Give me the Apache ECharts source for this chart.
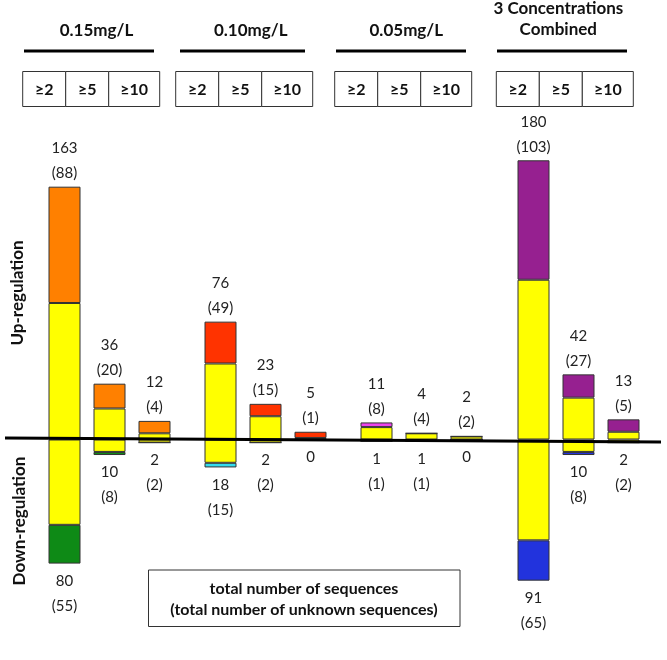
<!DOCTYPE html>
<html>
<head>
<meta charset="utf-8">
<title>Up / down regulated sequences</title>
<script src="https://cdn.jsdelivr.net/npm/echarts@6/dist/echarts.min.js"></script>
<style>
  html, body { margin: 0; padding: 0; background: #fff; }
  #main { width: 667px; height: 660px; }
</style>
</head>
<body>
<div id="main"></div>
<script>
// group headers and fold-change thresholds
var groups = ['0.15mg/L', '0.10mg/L', '0.05mg/L', '3 Concentrations\nCombined'];
var thresholds = ['≥2', '≥5', '≥10'];

// up-regulated: total / unknown, one row per group
var upTotal = [[163, 36, 12], [76, 23, 5], [11, 4, 2], [180, 42, 13]];
var upUnknown = [[88, 20, 4], [49, 15, 1], [8, 4, 2], [103, 27, 5]];

// down-regulated: total / unknown
var downTotal = [[80, 10, 2], [18, 2, 0], [1, 1, 0], [91, 10, 2]];
var downUnknown = [[55, 8, 2], [15, 2, 0], [1, 1, 0], [65, 8, 2]];

var upColors = ['#FF8000', '#FF3300', '#EE44EE', '#962090'];
var downColors = ['#0E8A16', '#33DDEE', '#888888', '#2233DD'];
var unknownColor = '#FFFF00';
var FONT = 'Lato, "Open Sans", sans-serif';

var gridLefts = [42, 198, 354, 511];
var boxLefts = [22.7, 175.7, 334.7, 496.3];
var cellWidths = [43, 43, 51];
var headerX = [96.5, 250.7, 406.3, 558.3];
var headerLines = [[24, 154], [180, 305], [336, 466], [497, 627]];

var chart = echarts.init(document.getElementById('main'), null, { renderer: 'canvas' });

var grid = [], xAxis = [], yAxis = [], series = [], graphic = [];

groups.forEach(function (name, g) {
  grid.push({ left: gridLefts[g], width: 135, top: 151, height: 470 });
  xAxis.push({ gridIndex: g, type: 'category', data: thresholds, show: false });
  yAxis.push({ gridIndex: g, type: 'value', min: -117, max: 186, show: false });

  var barBase = {
    type: 'bar', xAxisIndex: g, yAxisIndex: g, stack: 'g' + g,
    barWidth: 32, silent: true
  };
  // down series first so zero values stay on the baseline
  series.push(Object.assign({}, barBase, {
    name: 'down unknown',
    itemStyle: { color: unknownColor, borderColor: '#333', borderWidth: 1 },
    data: downUnknown[g].map(function (v) { return -v; })
  }));
  series.push(Object.assign({}, barBase, {
    name: 'down known',
    itemStyle: { color: downColors[g], borderColor: '#333', borderWidth: 1 },
    label: {
      show: true, position: 'bottom', distance: 5,
      fontFamily: FONT, fontSize: 15, lineHeight: 25, color: '#222',
      formatter: function (p) {
        var t = downTotal[g][p.dataIndex];
        return t === 0 ? '0' : t + '\n(' + downUnknown[g][p.dataIndex] + ')';
      }
    },
    data: downTotal[g].map(function (v, i) { return -(v - downUnknown[g][i]); })
  }));
  series.push(Object.assign({}, barBase, {
    name: 'up unknown',
    itemStyle: { color: unknownColor, borderColor: '#333', borderWidth: 1 },
    data: upUnknown[g]
  }));
  series.push(Object.assign({}, barBase, {
    name: 'up known',
    itemStyle: { color: upColors[g], borderColor: '#333', borderWidth: 1 },
    label: {
      show: true, position: 'top', distance: 1,
      fontFamily: FONT, fontSize: 15, lineHeight: 25, color: '#222',
      formatter: function (p) {
        return upTotal[g][p.dataIndex] + '\n(' + upUnknown[g][p.dataIndex] + ')';
      }
    },
    data: upTotal[g].map(function (v, i) { return v - upUnknown[g][i]; })
  }));

  // header text + rule
  graphic.push({
    type: 'text', x: headerX[g], y: g === 3 ? 19 : 31,
    style: {
      text: name, font: 'bold 17px ' + FONT, fill: '#111',
      align: 'center', verticalAlign: 'middle', textAlign: 'center', textVerticalAlign: 'middle',
      lineHeight: 21
    }
  });
  graphic.push({
    type: 'line',
    shape: { x1: headerLines[g][0], y1: 51, x2: headerLines[g][1], y2: 51 },
    style: { stroke: '#000', lineWidth: 3 }
  });

  // threshold boxes
  var cx = boxLefts[g];
  thresholds.forEach(function (t, i) {
    graphic.push({
      type: 'rect',
      shape: { x: cx, y: 71.5, width: cellWidths[i], height: 35 },
      style: { fill: '#fff', stroke: '#333', lineWidth: 1 }
    });
    graphic.push({
      type: 'text', x: cx + cellWidths[i] / 2, y: 89.5,
      style: {
        text: t, font: 'bold 16px ' + FONT, fill: '#111',
        align: 'center', verticalAlign: 'middle', textAlign: 'center', textVerticalAlign: 'middle'
      }
    });
    cx += cellWidths[i];
  });
});

// zero line across all groups
graphic.push({
  type: 'line', z: 100,
  shape: { x1: 5, y1: 438, x2: 661, y2: 442 },
  style: { stroke: '#000', lineWidth: 3 }
});

// side captions
graphic.push({
  type: 'text', x: 18, y: 293, rotation: Math.PI / 2,
  style: {
    text: 'Up-regulation', font: 'bold 17px ' + FONT, fill: '#111',
    align: 'center', verticalAlign: 'middle', textAlign: 'center', textVerticalAlign: 'middle'
  }
});
graphic.push({
  type: 'text', x: 20, y: 521, rotation: Math.PI / 2,
  style: {
    text: 'Down-regulation', font: 'bold 17px ' + FONT, fill: '#111',
    align: 'center', verticalAlign: 'middle', textAlign: 'center', textVerticalAlign: 'middle'
  }
});

// key box
graphic.push({
  type: 'rect',
  shape: { x: 148.5, y: 570, width: 311.5, height: 56.5 },
  style: { fill: '#fff', stroke: '#333', lineWidth: 1 }
});
graphic.push({
  type: 'text', x: 304, y: 599,
  style: {
    text: 'total number of sequences\n(total number of unknown sequences)',
    font: 'bold 16px ' + FONT, fill: '#111', lineHeight: 21,
    align: 'center', verticalAlign: 'middle', textAlign: 'center', textVerticalAlign: 'middle'
  }
});

chart.setOption({
  animation: false,
  grid: grid,
  xAxis: xAxis,
  yAxis: yAxis,
  series: series,
  graphic: graphic
});
</script>
</body>
</html>
